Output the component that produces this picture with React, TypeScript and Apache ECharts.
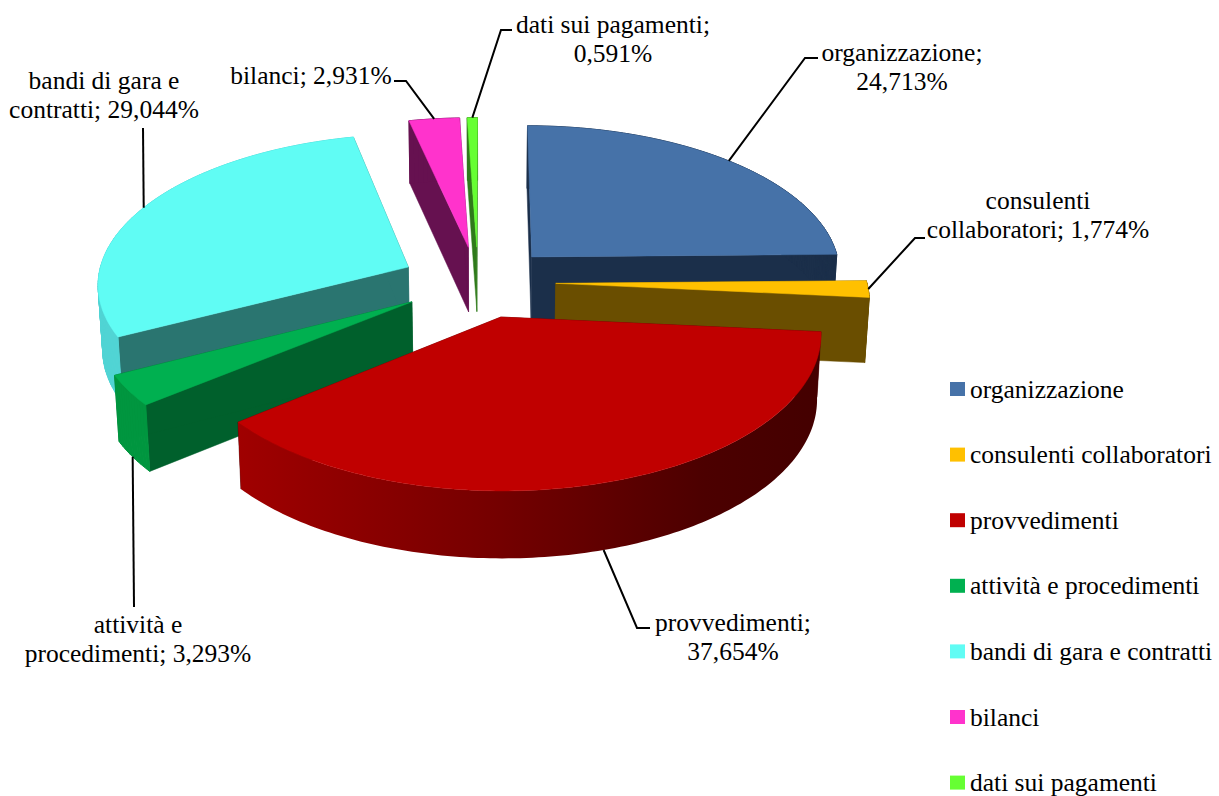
import React, { useEffect, useRef } from "react";
import * as echarts from "echarts";

const categories = [
  "organizzazione",
  "consulenti collaboratori",
  "provvedimenti",
  "attività e procedimenti",
  "bandi di gara e contratti",
  "bilanci",
  "dati sui pagamenti",
];
const shares = [24.713, 1.774, 37.654, 3.293, 29.044, 2.931, 0.591];
const labelTemplates = [
  "organizzazione;\n{v}",
  "consulenti\ncollaboratori; {v}",
  "provvedimenti;\n{v}",
  "attività e\nprocedimenti; {v}",
  "bandi di gara e\ncontratti; {v}",
  "bilanci; {v}",
  "dati sui pagamenti;\n{v}",
];

// styling
const topColors = ["#4672A8", "#FFC000", "#C00000", "#00B050", "#60FCF4", "#FF33CC", "#66FF33"];
const cutColors = ["#1B2F4A", "#6A4E00", "#4A0000", "#00602C", "#2A7570", "#661150", "#2F7A1A"];
const rimColors: any[] = [
  "#1B2F4A",
  "#6A4E00",
  null,
  "#00963F",
  "#50D4D4",
  "#661150",
  "#2F7A1A",
];
// layout
const drawOrder = [3, 4, 7, 6, 5, 1, 2];
const leaderElbows = [
  [[805, 58], [818, 58]],
  [[915, 238], [925, 238]],
  [[637, 628], [650, 628]],
  [[134, 607]],
  [[143, 128]],
  [[406, 81], [394, 81]],
  [[501, 30], [512, 30]],
];
const labelCenters = [
  [902, 67],
  [1038, 215],
  [733, 637],
  [138, 639],
  [104, 95],
  [311, 75],
  [613, 39],
];
const FONT = "Liberation Serif";
const FONT_SIZE = 25.5;

// camera: perspective projection of the pie's plane onto the screen
const R = 311;
const EXPLODE_X = 0.25;
const EXPLODE_Y = 0.24;
const K = 0.1;
const VX = 485;
const VY = -1208;
const B = 1490;
const SKEW = -7;
const DEPTH = 65;

function project(X: number, Y: number, bottom: boolean): number[] {
  const w = (X * R + SKEW) / (1 + K * Y);
  const topY = VY + B / (1 + K * Y);
  if (!bottom) return [VX + w, topY];
  return [VX + w * 0.988, topY + DEPTH / (1 + 0.03 * Y)];
}

function sliceAngles(index: number) {
  const total = shares.reduce((a, b) => a + b, 0);
  let acc = 0;
  for (let i = 0; i < index; i++) acc += shares[i];
  const a1 = (acc / total) * Math.PI * 2;
  const a2 = ((acc + shares[index]) / total) * Math.PI * 2;
  return { a1, a2, mid: (a1 + a2) / 2 };
}

function renderSlice(params: any, api: any) {
  const i = params.seriesIndex;
  const { a1, a2, mid } = sliceAngles(i);
  const ex = Math.sin(mid) * EXPLODE_X;
  const ey = Math.cos(mid) * EXPLODE_Y;
  const rim = (a: number, bottom: boolean) =>
    project(ex + Math.sin(a), ey + Math.cos(a), bottom);
  const apex = (bottom: boolean) => project(ex, ey, bottom);

  const steps = Math.max(2, Math.ceil(((a2 - a1) * 180) / Math.PI));
  const topArc: number[][] = [];
  const botArc: number[][] = [];
  for (let s = 0; s <= steps; s++) {
    const a = a1 + ((a2 - a1) * s) / steps;
    topArc.push(rim(a, false));
    botArc.push(rim(a, true));
  }

  const poly = (points: number[][], fill: any, lineWidth = 0.5) => ({
    type: "polygon",
    shape: { points },
    style: { fill, stroke: typeof fill === "string" ? fill : undefined, lineWidth },
  });

  const cut1 = [apex(false), rim(a1, false), rim(a1, true), apex(true)];
  const cut2 = [apex(false), rim(a2, false), rim(a2, true), apex(true)];
  const top = [apex(false), ...topArc];

  const wall: any[] = [];
  if (rimColors[i]) {
    // one strip per step, so that the silhouette's tangent edge is filled too
    for (let s = 0; s < steps; s++) {
      wall.push(poly([topArc[s], topArc[s + 1], botArc[s + 1], botArc[s]], rimColors[i], 1));
    }
  } else {
    wall.push(
      poly(
        [...topArc, ...botArc.slice().reverse()],
        new echarts.graphic.LinearGradient(0, 0, 1, 0, [
          { offset: 0, color: "#A00000" },
          { offset: 0.45, color: "#740000" },
          { offset: 0.8, color: "#4C0000" },
          { offset: 1, color: "#440000" },
        ])
      )
    );
  }

  // leader line anchored on the rim at the slice's middle angle
  const rimY = ey + Math.cos(mid);
  const anchor = rim(mid, rimY < -0.5);
  const leader = [anchor, ...leaderElbows[i]];
  const text = labelTemplates[i].replace(
    "{v}",
    api.value(0).toFixed(3).replace(".", ",") + "%"
  );

  return {
    type: "group",
    children: [
      poly(cut1, cutColors[i]),
      poly(cut2, cutColors[i]),
      ...wall,
      poly(top, topColors[i]),
      {
        type: "polyline",
        shape: { points: leader },
        style: { stroke: "#000", lineWidth: 2, fill: null },
      },
      {
        type: "text",
        x: labelCenters[i][0],
        y: labelCenters[i][1],
        style: {
          text,
          fontFamily: FONT,
          fontSize: FONT_SIZE,
          lineHeight: 29,
          fill: "#000",
          align: "center",
          verticalAlign: "middle",
        },
      },
    ],
  };
}

export default function App() {
  const ref = useRef<HTMLDivElement>(null);
  useEffect(() => {
    const chart = echarts.init(ref.current!, undefined, { renderer: "svg" });
    chart.setOption({
      animation: false,
      backgroundColor: "#fff",
      legend: {
        orient: "vertical",
        left: 950,
        top: 376,
        height: 460,
        padding: 0,
        icon: "rect",
        itemWidth: 15,
        itemHeight: 14,
        itemGap: 39.6,
        selectedMode: false,
        data: categories,
        textStyle: {
          fontFamily: FONT,
          fontSize: FONT_SIZE,
          lineHeight: 24,
          color: "#000",
        },
      },
      series: categories.map((name, i) => ({
        type: "custom",
        name,
        coordinateSystem: "none",
        z: drawOrder[i],
        silent: true,
        itemStyle: { color: topColors[i] },
        renderItem: renderSlice,
        data: [[shares[i]]],
      })),
    });
    return () => chart.dispose();
  }, []);
  return (
    <div
      ref={ref}
      style={{ position: "absolute", left: 0, top: 0, width: 1219, height: 796 }}
    />
  );
}
